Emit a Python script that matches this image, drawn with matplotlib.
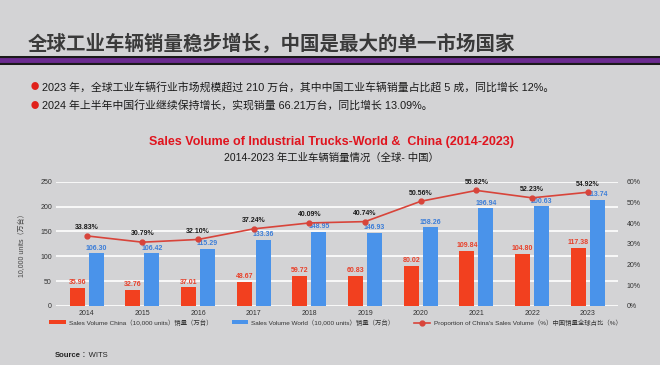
import matplotlib.pyplot as plt
import numpy as np

plt.rcParams['font.family'] = ['Liberation Sans', 'Noto Sans CJK SC', 'DejaVu Sans']

years = ['2014', '2015', '2016', '2017', '2018', '2019', '2020', '2021', '2022', '2023']
china_sales = [35.96, 32.76, 37.01, 48.67, 59.72, 60.83, 80.02, 109.84, 104.80, 117.38]
world_sales = [106.30, 106.42, 115.29, 133.36, 148.95, 146.93, 158.26, 196.94, 200.63, 213.74]
china_share = [33.83, 30.79, 32.10, 37.24, 40.09, 40.74, 50.56, 55.82, 52.23, 54.92]

bg = '#d3d3d5'
red = '#f2401f'
blue = '#4a93ea'
line_red = '#d8443a'
cjk = ['Noto Sans CJK SC', 'DejaVu Sans']

fig = plt.figure(figsize=(6.6, 3.65), dpi=100, facecolor=bg)

# slide header
fig.text(0.042, 0.88, '全球工业车辆销量稳步增长，中国是最大的单一市场国家',
         fontsize=14, fontweight='bold', color='#3a3a3a', va='center', family=cjk)
fig.add_artist(plt.Line2D([0, 1], [0.836, 0.836], color='#1a1a1a', lw=6.5))
fig.add_artist(plt.Line2D([0, 1], [0.836, 0.836], color='#6b2b90', lw=3.5))

bullets = ['2023 年，全球工业车辆行业市场规模超过 210 万台，其中中国工业车辆销量占比超 5 成，同比增长 12%。',
           '2024 年上半年中国行业继续保持增长，实现销量 66.21万台，同比增长 13.09%。']
for k, b in enumerate(bullets):
    y = 0.762 - k * 0.05
    fig.text(0.047, y, '●', color='#e0201a', fontsize=6, va='center', family=cjk)
    fig.text(0.064, y, b, color='#1a1a1a', fontsize=7.8, va='center')

fig.text(0.503, 0.61, 'Sales Volume of Industrial Trucks-World &  China (2014-2023)',
         color='#e0141e', fontsize=9, fontweight='bold', ha='center', va='center')
fig.text(0.502, 0.567, '2014-2023 年工业车辆销量情况（全球- 中国）',
         color='#1a1a1a', fontsize=7.5, ha='center', va='center')

ax = fig.add_axes([0.085, 0.162, 0.852, 0.34])
ax.set_facecolor('none')
x = np.arange(len(years))
w = 0.27
ax.bar(x - 0.17, china_sales, w, color=red, label='Sales Volume China（10,000 units）销量（万台）', zorder=3)
ax.bar(x + 0.17, world_sales, w, color=blue, label='Sales Volume World（10,000 units）销量（万台）', zorder=3)
for i in range(len(years)):
    ax.text(x[i] - 0.17, china_sales[i] + 4, f'{china_sales[i]:.2f}', color='#e8402a',
            fontsize=5, fontweight='bold', ha='center', va='bottom', zorder=5)
    ax.text(x[i] + 0.17, world_sales[i] + 3, f'{world_sales[i]:.2f}', color='#3b7dd8',
            fontsize=5, fontweight='bold', ha='center', va='bottom', zorder=5)

ax.set_ylim(0, 250)
ax.set_yticks([0, 50, 100, 150, 200, 250])
ax.set_xlim(-0.55, len(years) - 0.45)
ax.set_xticks(x)
ax.set_xticklabels(years)
ax.tick_params(labelsize=5, colors='#333333', length=0, pad=3)
ax.grid(axis='y', color='white', lw=1.2, zorder=0)
for s in ax.spines.values():
    s.set_visible(False)
ax.set_ylabel('10,000 units（万台）', fontsize=5, color='#444444', labelpad=10)

ax2 = ax.twinx()
ax2.plot(x, china_share, color=line_red, lw=1.2, marker='o', ms=3.5, zorder=4,
         label="Proportion of China's Sales Volume（%）中国销量全球占比（%）")
for i in range(len(years)):
    ax2.text(x[i], china_share[i] + 2.3, f'{china_share[i]:.2f}%', color='#1a1a1a',
             fontsize=5, fontweight='bold', ha='center', va='bottom')
ax2.set_ylim(0, 60)
ax2.set_yticks(range(0, 61, 10))
ax2.set_yticklabels([f'{v}%' for v in range(0, 61, 10)])
ax2.tick_params(labelsize=5, colors='#333333', length=0, pad=6)
for s in ax2.spines.values():
    s.set_visible(False)

h1, l1 = ax.get_legend_handles_labels()
h2, l2 = ax2.get_legend_handles_labels()
fig.legend(h1 + h2, l1 + l2, loc='center', bbox_to_anchor=(0.508, 0.117), ncol=3,
           frameon=False, fontsize=4.6, handlelength=2.6, handleheight=0.6,
           handletextpad=0.5, columnspacing=3.0, labelcolor='#333333')

fig.text(0.083, 0.027, 'Source', fontsize=5.5, fontweight='bold', color='#222222', va='center')
fig.text(0.123, 0.027, '：WITS', fontsize=5.5, color='#222222', va='center')

fig.savefig('out.png', dpi=100, facecolor=bg)
